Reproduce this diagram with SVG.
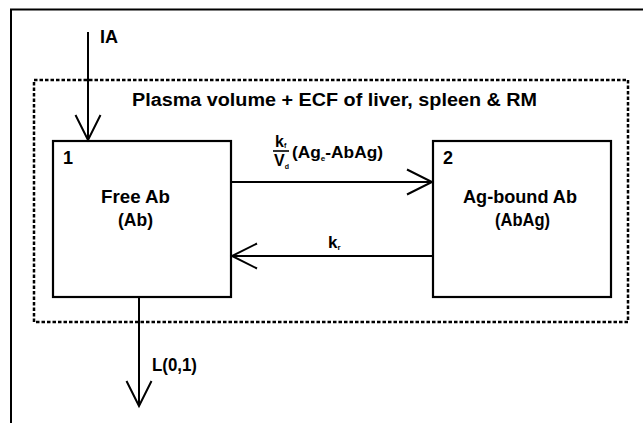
<svg xmlns="http://www.w3.org/2000/svg" width="643" height="423" viewBox="0 0 643 423">
<defs>
<style>
text{font-family:"Liberation Sans",Arial,sans-serif;font-weight:bold;fill:#000}
.lbl{font-size:18px}
.box{fill:#fff;stroke:#000;stroke-width:2.2}
.con{stroke:#000;stroke-width:2;fill:none}
</style>
<marker id="arr" markerUnits="userSpaceOnUse" markerWidth="30" markerHeight="30" viewBox="-2 -2 30 30" refX="25" refY="12.5" orient="auto">
<path d="M0,0 L25,12.5 L0,25" fill="none" stroke="#000" stroke-width="2"/>
</marker>
</defs>
<rect width="643" height="423" fill="#fff"/>
<g id="frame">
<path d="M11,430 V9.5 H660" fill="none" stroke="#000" stroke-width="2"/>
</g>
<g id="compartment">
<rect x="34" y="80" width="594" height="242" fill="none" stroke="#000" stroke-width="2.5" stroke-dasharray="3.5 2"/>
<text class="lbl" x="132" y="106" textLength="405" lengthAdjust="spacingAndGlyphs">Plasma volume + ECF of liver, spleen &amp; RM</text>
</g>
<g id="node1">
<rect class="box" x="53" y="141" width="178" height="156"/>
<text class="lbl" x="63" y="164">1</text>
<text class="lbl" x="101" y="203" textLength="69" lengthAdjust="spacingAndGlyphs">Free  Ab</text>
<text class="lbl" x="118" y="226" textLength="35" lengthAdjust="spacingAndGlyphs">(Ab)</text>
</g>
<g id="node2">
<rect class="box" x="433" y="141" width="178" height="156"/>
<text class="lbl" x="443" y="164">2</text>
<text class="lbl" x="463" y="203" textLength="114" lengthAdjust="spacingAndGlyphs">Ag-bound  Ab</text>
<text class="lbl" x="495" y="226" textLength="55" lengthAdjust="spacingAndGlyphs">(AbAg)</text>
</g>
<g id="connectors">
<path class="con" d="M88,32 V140" marker-end="url(#arr)"/>
<text class="lbl" x="100" y="43">IA</text>
<path class="con" d="M231,182 H432" marker-end="url(#arr)"/>
<text x="275" y="147" font-size="16">k<tspan font-size="7" dy="1">f</tspan></text>
<line x1="273" y1="151" x2="289" y2="151" stroke="#000" stroke-width="1.6"/>
<text x="274" y="166" font-size="16">V<tspan font-size="7" dy="3">d</tspan></text>
<text x="292" y="158" font-size="17" textLength="91" lengthAdjust="spacingAndGlyphs">(Ag<tspan font-size="8" dy="3">e</tspan><tspan dy="-3">-AbAg)</tspan></text>
<path class="con" d="M433,256 H232" marker-end="url(#arr)"/>
<text x="328" y="248" font-size="17">k<tspan font-size="8" dy="2">r</tspan></text>
<path class="con" d="M139,297 V406" marker-end="url(#arr)"/>
<text class="lbl" x="152" y="371" textLength="45" lengthAdjust="spacingAndGlyphs">L(0,1)</text>
</g>
</svg>
